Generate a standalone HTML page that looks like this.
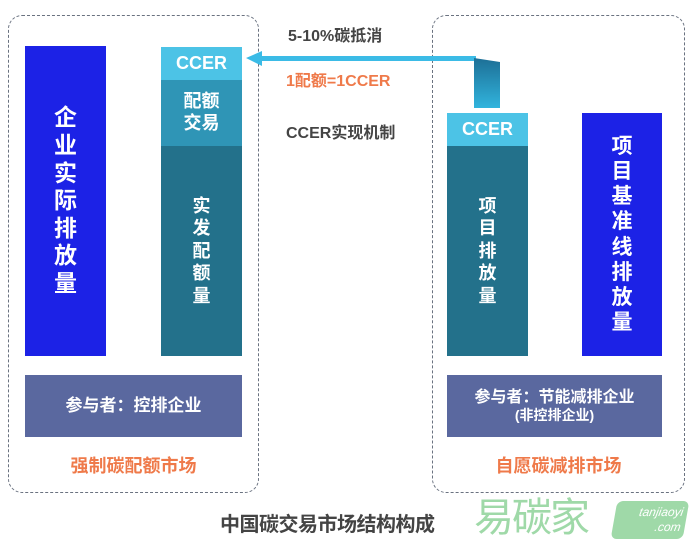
<!DOCTYPE html>
<html><head><meta charset="utf-8"><style>
body{margin:0;width:692px;height:547px;background:#fff;position:relative;overflow:hidden;font-family:"Liberation Sans","Noto Sans CJK SC",sans-serif;font-weight:bold}
.a{position:absolute}
.dash{position:absolute;border:1.5px dashed #6a7280;border-radius:14px;box-sizing:border-box}
.v{display:flex;align-items:center;justify-content:center;color:#fff;text-align:center;line-height:1.2}
</style></head><body>
<div class="dash" style="left:8px;top:15px;width:251px;height:478px"></div>
<div class="dash" style="left:432px;top:15px;width:253px;height:478px"></div>

<div class="a v" style="left:25px;top:46px;width:81px;height:310px;background:#1c22e6;font-size:23px">企<br>业<br>实<br>际<br>排<br>放<br>量</div>
<div class="a v" style="left:161px;top:47px;width:81px;height:33px;background:#4cc3e6;font-size:18px">CCER</div>
<div class="a v" style="left:161px;top:80px;width:81px;height:66px;background:#2f95b6;font-size:18px">配额<br>交易</div>
<div class="a v" style="left:161px;top:146px;width:81px;height:210px;background:#23718b;font-size:18px;line-height:1.25">实<br>发<br>配<br>额<br>量</div>
<div class="a v" style="left:25px;top:375px;width:217px;height:62px;background:#5a689f;font-size:17px">参与者：控排企业</div>
<div class="a" style="left:8px;top:452px;width:251px;text-align:center;color:#ef7a4a;font-size:18px">强制碳配额市场</div>

<svg class="a" style="left:0;top:0" width="692" height="547">
<defs><linearGradient id="g" x1="0" y1="0" x2="0" y2="1"><stop offset="0" stop-color="#1d6f96"/><stop offset="1" stop-color="#31b4dd"/></linearGradient></defs>
<rect x="258" y="56" width="218" height="5" fill="#3bbbe6"/>
<polygon points="246,58 262,51 262,66" fill="#3bbbe6"/>
<polygon points="474,58 500,62 500,108 474,108" fill="url(#g)"/>
</svg>
<div class="a" style="left:288px;top:22px;font-size:16px;color:#444">5-10%碳抵消</div>
<div class="a" style="left:286px;top:67px;font-size:16px;color:#ef7a4a">1配额=1CCER</div>
<div class="a" style="left:286px;top:119px;font-size:16px;color:#444">CCER实现机制</div>

<div class="a v" style="left:447px;top:113px;width:81px;height:33px;background:#4cc3e6;font-size:18px">CCER</div>
<div class="a v" style="left:447px;top:146px;width:81px;height:210px;background:#23718b;font-size:18px;line-height:1.25">项<br>目<br>排<br>放<br>量</div>
<div class="a v" style="left:582px;top:113px;width:80px;height:243px;background:#1c22e6;font-size:21px">项<br>目<br>基<br>准<br>线<br>排<br>放<br>量</div>
<div class="a v" style="left:447px;top:375px;width:215px;height:62px;background:#5a689f;font-size:16px;flex-direction:column">参与者：节能减排企业<span style="font-size:14px">(非控排企业)</span></div>
<div class="a" style="left:432px;top:452px;width:253px;text-align:center;color:#ef7a4a;font-size:18px">自愿碳减排市场</div>

<div class="a" style="left:220px;top:508px;font-size:20px;color:#444;letter-spacing:-0.5px">中国碳交易市场结构构成</div>
<div class="a" style="left:474px;top:494px;font-size:40px;color:#9fd9a8;font-weight:normal;letter-spacing:-2px;line-height:48px">易碳家</div>
<div class="a" style="left:614px;top:501px;width:72px;height:38px;background:#9fd9a8;border-radius:6px;transform:skewX(-10deg);color:#fff;font-size:12px;font-style:italic;font-weight:normal;text-align:right;padding-right:4px;box-sizing:border-box;line-height:15px;padding-top:4px">tanjiaoyi<br>.com</div>
</body></html>
